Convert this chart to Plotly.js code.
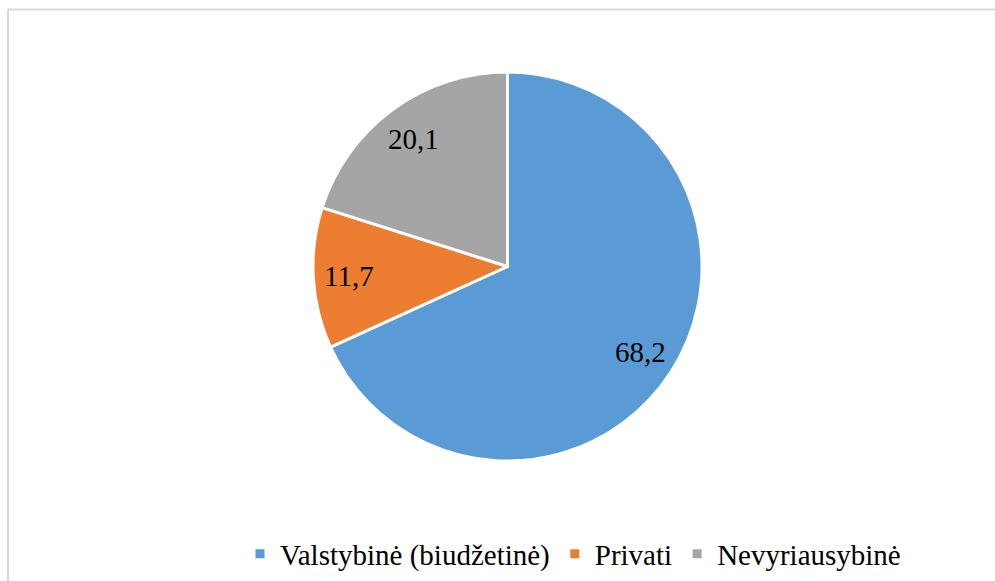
<!DOCTYPE html>
<html>
<head>
<meta charset="utf-8">
<script src="https://cdn.plot.ly/plotly-3.0.1.min.js"></script>
<style>
html,body{margin:0;padding:0;background:#fff;}
#chart{width:995px;height:581px;}
</style>
</head>
<body>
<div id="chart"></div>
<script>
const categories = ["Valstybinė (biudžetinė)", "Privati", "Nevyriausybinė"];
const values = [68.2, 11.7, 20.1];
const valueLabels = ["68,2", "11,7", "20,1"];
const colors = ["#5B9BD5", "#ED7D31", "#A5A5A5"];

const W = 995, H = 581;
const cx = 507.5, cy = 266.5, R = 194.5;
const labelRadius = 0.815;
const serif = "Liberation Serif";

// label annotations at slice mid-angles (clockwise from 12 o'clock)
const total = values.reduce((a, b) => a + b, 0);
let acc = 0;
const annotations = values.map((v, i) => {
  const mid = (acc + v / 2) / total * 2 * Math.PI;
  acc += v;
  const px = cx + Math.sin(mid) * R * labelRadius;
  const py = cy - Math.cos(mid) * R * labelRadius;
  return {
    x: px / W, y: 1 - py / H, xref: "paper", yref: "paper",
    text: valueLabels[i], showarrow: false,
    xanchor: "center", yanchor: "middle",
    font: {family: serif, size: 29, color: "#000"}
  };
});

const trace = {
  type: "pie",
  labels: categories,
  values: values,
  sort: false,
  direction: "clockwise",
  rotation: 0,
  textinfo: "none",
  hoverinfo: "label+value",
  marker: {colors: colors, line: {color: "#ffffff", width: 3}},
  domain: {x: [(cx - R) / W, (cx + R) / W], y: [1 - (cy + R) / H, 1 - (cy - R) / H]}
};

const layout = {
  width: W, height: H,
  margin: {l: 0, r: 0, t: 0, b: 0},
  paper_bgcolor: "#ffffff",
  showlegend: true,
  legend: {
    orientation: "h",
    x: 573 / W, xanchor: "center",
    y: 1 - 554 / H, yanchor: "middle",
    font: {family: serif, size: 29, color: "#000"},
    itemwidth: 30,
    traceorder: "normal"
  },
  annotations: annotations,
  shapes: [
    {type: "line", xref: "paper", yref: "paper", x0: 8 / W, x1: 1.01, y0: 1 - 9.5 / H, y1: 1 - 9.5 / H, line: {color: "#d9d9d9", width: 2}},
    {type: "line", xref: "paper", yref: "paper", x0: 8 / W, x1: 8 / W, y0: 1 - 9.5 / H, y1: -0.01, line: {color: "#d9d9d9", width: 2}}
  ]
};

Plotly.newPlot("chart", [trace], layout, {displayModeBar: false, staticPlot: true});
</script>
</body>
</html>
